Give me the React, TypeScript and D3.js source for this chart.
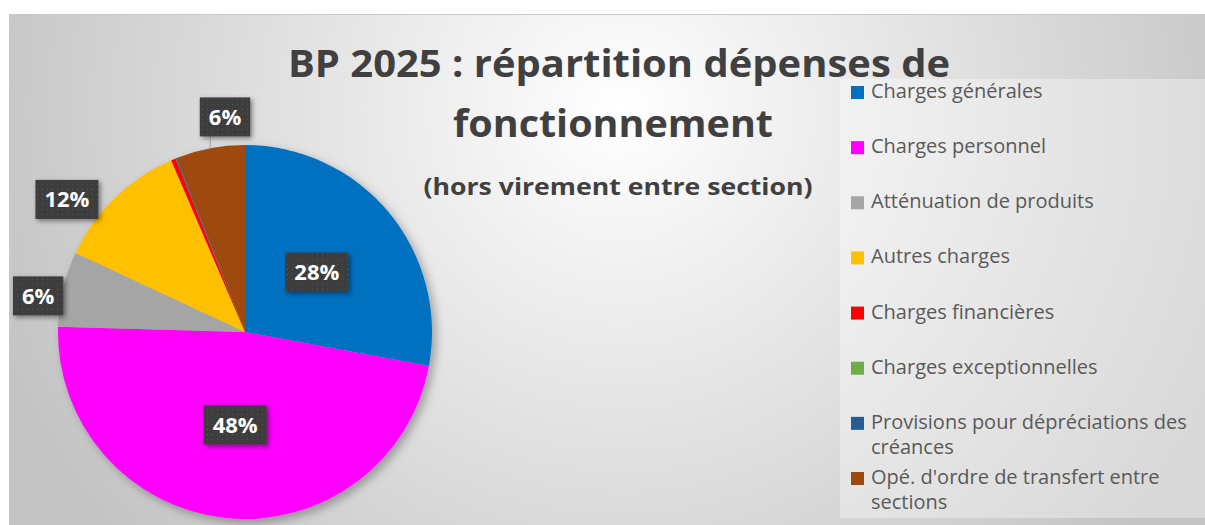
import React, { useEffect, useRef } from 'react';
import * as d3 from 'd3';

const categories = [
  "Charges générales",
  "Charges personnel",
  "Atténuation de produits",
  "Autres charges",
  "Charges financières",
  "Charges exceptionnelles",
  "Provisions pour dépréciations des créances",
  "Opé. d'ordre de transfert entre sections",
];
const values = [27.9, 47.55, 6.49, 11.6, 0.4, 0.01, 0.1, 5.95];
const colors = ["#0070C0", "#FF00FF", "#A5A5A5", "#FFC000", "#FF0000", "#70AD47", "#255E91", "#9E480E"];
const titleLines = ["BP 2025 : répartition dépenses de", "fonctionnement"];
const subtitle = "(hors virement entre section)";

// label placement style (not data): inside labels use centroid at half radius,
// outside labels sit beyond the rim with a small angular nudge (degrees)
const labelPlacement: any[] = [
  { inside: true },
  { inside: true },
  { inside: false, shift: -3.4, off: 23 },
  { inside: false, shift: -9.2, off: 35 },
  null,
  null,
  null,
  { inside: false, shift: 5.4, off: 29, leader: true },
];

const W = 1205;
const H = 525;

export default function App() {
  const ref = useRef<SVGSVGElement>(null);

  useEffect(() => {
    const draw = () => {
      const svg = d3.select(ref.current);
      svg.selectAll('*').remove();
      const defs = svg.append('defs');

      const grad = defs.append('radialGradient')
        .attr('id', 'bg').attr('gradientUnits', 'userSpaceOnUse')
        .attr('cx', 620).attr('cy', 110).attr('r', 660);
      grad.append('stop').attr('offset', 0).attr('stop-color', '#ffffff');
      grad.append('stop').attr('offset', 1).attr('stop-color', '#c4c4c4');

      const shadow = defs.append('filter').attr('id', 'pieShadow')
        .attr('x', '-20%').attr('y', '-20%').attr('width', '140%').attr('height', '140%');
      shadow.append('feDropShadow').attr('dx', 4).attr('dy', 4).attr('stdDeviation', 5)
        .attr('flood-color', '#000').attr('flood-opacity', 0.3);

      const boxShadow = defs.append('filter').attr('id', 'boxShadow')
        .attr('x', '-30%').attr('y', '-30%').attr('width', '160%').attr('height', '160%');
      boxShadow.append('feDropShadow').attr('dx', 2).attr('dy', 2).attr('stdDeviation', 2.5)
        .attr('flood-color', '#000').attr('flood-opacity', 0.45);

      const pat = defs.append('pattern').attr('id', 'dots')
        .attr('patternUnits', 'userSpaceOnUse').attr('width', 5).attr('height', 5);
      pat.append('rect').attr('width', 5).attr('height', 5).attr('fill', '#3d3d3d');
      pat.append('rect').attr('x', 2).attr('y', 2).attr('width', 1).attr('height', 1).attr('fill', '#555555');

      // chart area
      svg.append('rect')
        .attr('x', 9.5).attr('y', 14.5).attr('width', W).attr('height', H)
        .attr('fill', 'url(#bg)').attr('stroke', '#c8c8c8').attr('stroke-width', 1);

      // title
      const title = svg.append('g').attr('fill', '#404040')
        .attr('font-family', "'Open Sans', sans-serif").attr('font-weight', 'bold')
        .attr('text-anchor', 'middle');
      title.append('text').attr('x', 619).attr('y', 77).attr('font-size', 37)
        .attr('textLength', 662).attr('lengthAdjust', 'spacingAndGlyphs').text(titleLines[0]);
      title.append('text').attr('x', 613).attr('y', 137).attr('font-size', 37)
        .attr('textLength', 320).attr('lengthAdjust', 'spacingAndGlyphs').text(titleLines[1]);
      title.append('text').attr('x', 618).attr('y', 195).attr('font-size', 24)
        .attr('textLength', 389).attr('lengthAdjust', 'spacingAndGlyphs').text(subtitle);

      // legend
      const lg = svg.append('g');
      lg.append('rect').attr('x', 840).attr('y', 79).attr('width', 366).attr('height', 439)
        .attr('fill', '#ffffff').attr('fill-opacity', 0.35);
      const rowY = d3.scalePoint<number>().domain(d3.range(categories.length)).range([86, 472]);
      const maxW = 333;
      categories.forEach((c, i) => {
        const y = rowY(i)!;
        lg.append('rect').attr('x', 851).attr('y', y).attr('width', 13).attr('height', 13).attr('fill', colors[i]);
        const t = lg.append('text').attr('x', 871).attr('y', y + 12)
          .attr('font-family', "'Open Sans', sans-serif").attr('font-size', 20).attr('fill', '#595959');
        const words = c.split(' ');
        let line: string[] = [];
        let ts = t.append('tspan').attr('x', 871).attr('dy', 0);
        words.forEach((w) => {
          line.push(w);
          ts.text(line.join(' '));
          if ((ts.node() as SVGTextContentElement).getComputedTextLength() > maxW && line.length > 1) {
            line.pop();
            ts.text(line.join(' '));
            line = [w];
            ts = t.append('tspan').attr('x', 871).attr('dy', 25).text(w);
          }
        });
      });

      // pie
      const cx = 245, cy = 332, R = 187;
      const total = d3.sum(values);
      const pie = d3.pie<number>().sort(null).value((d) => d);
      const arcs = pie(values);
      const arc = d3.arc<d3.PieArcDatum<number>>().innerRadius(0).outerRadius(R);
      const pg = svg.append('g').attr('transform', `translate(${cx},${cy})`);
      pg.append('g').attr('filter', 'url(#pieShadow)')
        .selectAll('path').data(arcs).join('path')
        .attr('d', arc as any).attr('fill', (_d, i) => colors[i]);

      const polar = (a: number, r: number) => [r * Math.sin(a), -r * Math.cos(a)];
      const lblG = pg.append('g');
      arcs.forEach((a, i) => {
        const pct = (a.value / total) * 100;
        const pl = labelPlacement[i];
        if (!pl || pct < 1) return;
        const mid = (a.startAngle + a.endAngle) / 2;
        let pos: number[];
        if (pl.inside) {
          pos = d3.arc<any>().innerRadius(0).outerRadius(R).centroid(a as any);
        } else {
          pos = polar(mid + (pl.shift * Math.PI) / 180, R + pl.off);
        }
        const label = `${Math.round(pct)}%`;
        const g = lblG.append('g');
        const txt = g.append('text').attr('x', pos[0]).attr('y', pos[1] + 8)
          .attr('text-anchor', 'middle').attr('fill', '#ffffff')
          .attr('font-family', "'Open Sans', sans-serif").attr('font-weight', 'bold')
          .attr('font-size', 22).text(label);
        const tw = (txt.node() as SVGTextContentElement).getComputedTextLength();
        const bw = tw + 18, bh = 39;
        const x0 = pos[0] - bw / 2, y0 = pos[1] - bh / 2;
        g.insert('rect', 'text').attr('x', x0).attr('y', y0).attr('width', bw).attr('height', bh)
          .attr('fill', 'url(#dots)').attr('filter', 'url(#boxShadow)');
        if (pl.leader) {
          const p = polar(mid, R);
          const qx = Math.max(x0 + 10, Math.min(x0 + bw - 10, p[0]));
          const qy = Math.max(y0, Math.min(y0 + bh, p[1]));
          lblG.insert('line', ':first-child').attr('x1', p[0]).attr('y1', p[1]).attr('x2', qx).attr('y2', qy)
            .attr('stroke', '#a6a6a6').attr('stroke-width', 1);
        }
      });
    };
    if ((document as any).fonts && (document as any).fonts.ready) {
      (document as any).fonts.ready.then(draw);
    } else {
      draw();
    }
  }, []);

  return (
    <svg ref={ref} width={W} height={H}
      style={{ position: 'absolute', left: 0, top: 0, display: 'block' }} />
  );
}
